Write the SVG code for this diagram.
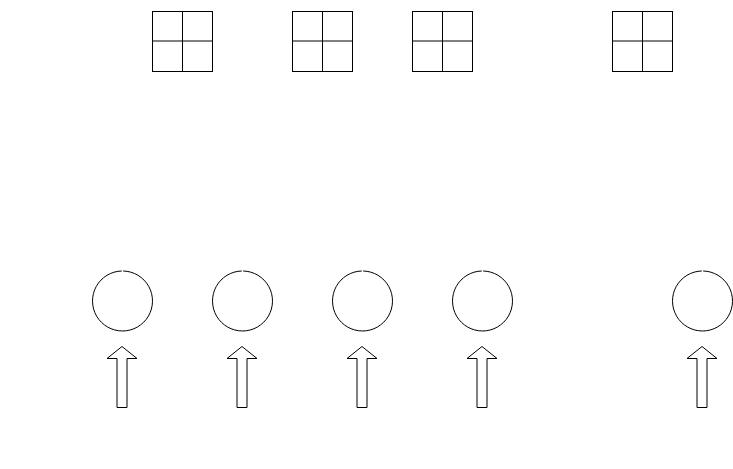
<svg xmlns="http://www.w3.org/2000/svg" width="733" height="469" viewBox="0 0 733 469">
<style>
.box{fill:#fff;stroke:#000;stroke-width:1}
.ln{stroke:#000;stroke-width:1;fill:none}
.circ{fill:none;stroke:#000;stroke-width:1}
.arr{fill:#fff;stroke:#000;stroke-width:1}
</style>
<defs>
<g id="grid">
<rect class="box" x="0.5" y="0.5" width="60" height="60"/>
<line class="ln" x1="30.5" y1="0.5" x2="30.5" y2="60.5"/>
<line class="ln" x1="0.5" y1="30" x2="60.5" y2="30"/>
</g>
<path id="ring" class="circ" d="M 0.7 -30 A 30 30 0 1 1 -0.7 -30"/>
<path id="uparrow" class="arr" d="M 0 0 L 15 12 L 5 12 L 5 61 L -5 61 L -5 12 L -15 12 Z"/>
</defs>
<g id="node-grid1"><use href="#grid" x="152" y="11"/></g>
<g id="node-grid2"><use href="#grid" x="292" y="11"/></g>
<g id="node-grid3"><use href="#grid" x="412" y="11"/></g>
<g id="node-grid4"><use href="#grid" x="612" y="11"/></g>
<g id="node-circle1"><use href="#ring" x="122.5" y="301"/></g>
<g id="node-circle2"><use href="#ring" x="242.5" y="301"/></g>
<g id="node-circle3"><use href="#ring" x="362.5" y="301"/></g>
<g id="node-circle4"><use href="#ring" x="482.5" y="301"/></g>
<g id="node-circle5"><use href="#ring" x="702.5" y="301"/></g>
<g id="connectors">
<use href="#uparrow" x="122" y="346.5"/>
<use href="#uparrow" x="242" y="346.5"/>
<use href="#uparrow" x="362" y="346.5"/>
<use href="#uparrow" x="482" y="346.5"/>
<use href="#uparrow" x="702" y="346.5"/>
</g>
</svg>
